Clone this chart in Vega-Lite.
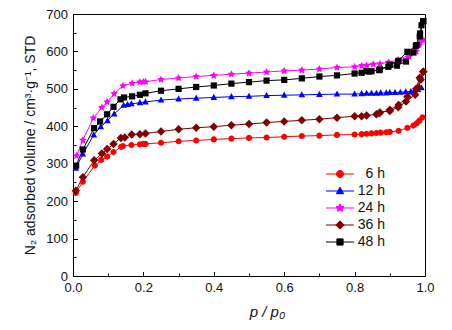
{
  "$schema": "https://vega.github.io/schema/vega-lite/v6.json",
  "width": 352,
  "height": 262,
  "autosize": {"type": "none"},
  "padding": {"left": 73, "top": 14, "right": 27, "bottom": 54},
  "background": "white",
  "config": {
    "font": "Liberation Sans",
    "view": {"stroke": "black", "strokeWidth": 1},
    "axis": {
      "labelFont": "Liberation Sans",
      "titleFont": "Liberation Sans",
      "labelFontSize": 13,
      "titleFontSize": 14,
      "titleFontWeight": "normal",
      "labelColor": "#111",
      "titleColor": "#111",
      "domainColor": "black",
      "tickColor": "black",
      "grid": false
    },
    "point": {"filled": true, "opacity": 1, "size": 100, "clip": true}
  },
  "datasets": {
    "iso": [
      {"s":"6 h","b":"a","p":0.008,"v":222},{"s":"6 h","b":"a","p":0.028,"v":252},{"s":"6 h","b":"a","p":0.062,"v":295},{"s":"6 h","b":"a","p":0.08,"v":310},{"s":"6 h","b":"a","p":0.097,"v":319},{"s":"6 h","b":"a","p":0.115,"v":331},{"s":"6 h","b":"a","p":0.137,"v":345},{"s":"6 h","b":"a","p":0.142,"v":347},{"s":"6 h","b":"a","p":0.166,"v":350},{"s":"6 h","b":"a","p":0.19,"v":352},{"s":"6 h","b":"a","p":0.2,"v":353},{"s":"6 h","b":"a","p":0.206,"v":353},{"s":"6 h","b":"a","p":0.25,"v":356},{"s":"6 h","b":"a","p":0.3,"v":360},{"s":"6 h","b":"a","p":0.35,"v":362},{"s":"6 h","b":"a","p":0.4,"v":365},{"s":"6 h","b":"a","p":0.45,"v":367},{"s":"6 h","b":"a","p":0.5,"v":369},{"s":"6 h","b":"a","p":0.55,"v":370},{"s":"6 h","b":"a","p":0.6,"v":372},{"s":"6 h","b":"a","p":0.65,"v":374},{"s":"6 h","b":"a","p":0.7,"v":375},{"s":"6 h","b":"a","p":0.75,"v":377},{"s":"6 h","b":"a","p":0.8,"v":378},{"s":"6 h","b":"a","p":0.82,"v":379},{"s":"6 h","b":"a","p":0.834,"v":380},{"s":"6 h","b":"a","p":0.848,"v":381},{"s":"6 h","b":"a","p":0.862,"v":382},{"s":"6 h","b":"a","p":0.874,"v":383},{"s":"6 h","b":"a","p":0.89,"v":384},{"s":"6 h","b":"a","p":0.9,"v":385},{"s":"6 h","b":"a","p":0.925,"v":388},{"s":"6 h","b":"a","p":0.95,"v":396},{"s":"6 h","b":"a","p":0.967,"v":402},{"s":"6 h","b":"a","p":0.976,"v":408},{"s":"6 h","b":"a","p":0.984,"v":415},{"s":"6 h","b":"a","p":0.993,"v":424},
      {"s":"12 h","b":"a","p":0.008,"v":288},{"s":"12 h","b":"a","p":0.028,"v":326},{"s":"12 h","b":"a","p":0.059,"v":377},{"s":"12 h","b":"a","p":0.079,"v":399},{"s":"12 h","b":"a","p":0.098,"v":415},{"s":"12 h","b":"a","p":0.117,"v":433},{"s":"12 h","b":"a","p":0.144,"v":456},{"s":"12 h","b":"a","p":0.155,"v":458},{"s":"12 h","b":"a","p":0.166,"v":460},{"s":"12 h","b":"a","p":0.19,"v":463},{"s":"12 h","b":"a","p":0.206,"v":465},{"s":"12 h","b":"a","p":0.25,"v":470},{"s":"12 h","b":"a","p":0.3,"v":473},{"s":"12 h","b":"a","p":0.35,"v":475},{"s":"12 h","b":"a","p":0.4,"v":477},{"s":"12 h","b":"a","p":0.45,"v":479},{"s":"12 h","b":"a","p":0.5,"v":480},{"s":"12 h","b":"a","p":0.55,"v":482},{"s":"12 h","b":"a","p":0.6,"v":483},{"s":"12 h","b":"a","p":0.65,"v":484},{"s":"12 h","b":"a","p":0.7,"v":485},{"s":"12 h","b":"a","p":0.75,"v":486},{"s":"12 h","b":"a","p":0.8,"v":486},{"s":"12 h","b":"a","p":0.82,"v":487},{"s":"12 h","b":"a","p":0.834,"v":488},{"s":"12 h","b":"a","p":0.848,"v":488},{"s":"12 h","b":"a","p":0.862,"v":488},{"s":"12 h","b":"a","p":0.874,"v":489},{"s":"12 h","b":"a","p":0.89,"v":489},{"s":"12 h","b":"a","p":0.9,"v":490},{"s":"12 h","b":"a","p":0.915,"v":490},{"s":"12 h","b":"a","p":0.93,"v":491},{"s":"12 h","b":"a","p":0.945,"v":492},{"s":"12 h","b":"a","p":0.96,"v":493},{"s":"12 h","b":"a","p":0.97,"v":495},{"s":"12 h","b":"a","p":0.98,"v":498},{"s":"12 h","b":"a","p":0.99,"v":503},
      {"s":"24 h","b":"a","p":0.01,"v":321},{"s":"24 h","b":"a","p":0.028,"v":363},{"s":"24 h","b":"a","p":0.058,"v":422},{"s":"24 h","b":"a","p":0.082,"v":450},{"s":"24 h","b":"a","p":0.097,"v":465},{"s":"24 h","b":"a","p":0.117,"v":487},{"s":"24 h","b":"a","p":0.142,"v":508},{"s":"24 h","b":"a","p":0.168,"v":515},{"s":"24 h","b":"a","p":0.19,"v":518},{"s":"24 h","b":"a","p":0.2,"v":519},{"s":"24 h","b":"a","p":0.206,"v":519},{"s":"24 h","b":"a","p":0.25,"v":525},{"s":"24 h","b":"a","p":0.3,"v":529},{"s":"24 h","b":"a","p":0.35,"v":533},{"s":"24 h","b":"a","p":0.4,"v":536},{"s":"24 h","b":"a","p":0.45,"v":539},{"s":"24 h","b":"a","p":0.5,"v":542},{"s":"24 h","b":"a","p":0.55,"v":545},{"s":"24 h","b":"a","p":0.6,"v":548},{"s":"24 h","b":"a","p":0.65,"v":550},{"s":"24 h","b":"a","p":0.7,"v":553},{"s":"24 h","b":"a","p":0.75,"v":557},{"s":"24 h","b":"a","p":0.8,"v":559},{"s":"24 h","b":"a","p":0.82,"v":562},{"s":"24 h","b":"a","p":0.834,"v":563},{"s":"24 h","b":"a","p":0.853,"v":566},{"s":"24 h","b":"a","p":0.872,"v":567},{"s":"24 h","b":"a","p":0.896,"v":571},{"s":"24 h","b":"a","p":0.924,"v":577},{"s":"24 h","b":"a","p":0.952,"v":590},{"s":"24 h","b":"a","p":0.972,"v":604},{"s":"24 h","b":"a","p":0.983,"v":617},{"s":"24 h","b":"a","p":0.993,"v":632},
      {"s":"24 h","b":"d","p":0.993,"v":632},{"s":"24 h","b":"d","p":0.985,"v":622},{"s":"24 h","b":"d","p":0.975,"v":600},{"s":"24 h","b":"d","p":0.955,"v":586},{"s":"24 h","b":"d","p":0.93,"v":575},{"s":"24 h","b":"d","p":0.9,"v":568},
      {"s":"36 h","b":"a","p":0.008,"v":228},{"s":"36 h","b":"a","p":0.028,"v":264},{"s":"36 h","b":"a","p":0.06,"v":309},{"s":"36 h","b":"a","p":0.082,"v":327},{"s":"36 h","b":"a","p":0.097,"v":339},{"s":"36 h","b":"a","p":0.115,"v":353},{"s":"36 h","b":"a","p":0.136,"v":369},{"s":"36 h","b":"a","p":0.147,"v":370},{"s":"36 h","b":"a","p":0.167,"v":378},{"s":"36 h","b":"a","p":0.19,"v":379},{"s":"36 h","b":"a","p":0.206,"v":381},{"s":"36 h","b":"a","p":0.25,"v":386},{"s":"36 h","b":"a","p":0.3,"v":392},{"s":"36 h","b":"a","p":0.35,"v":396},{"s":"36 h","b":"a","p":0.4,"v":399},{"s":"36 h","b":"a","p":0.45,"v":403},{"s":"36 h","b":"a","p":0.5,"v":406},{"s":"36 h","b":"a","p":0.55,"v":410},{"s":"36 h","b":"a","p":0.6,"v":413},{"s":"36 h","b":"a","p":0.65,"v":416},{"s":"36 h","b":"a","p":0.7,"v":419},{"s":"36 h","b":"a","p":0.75,"v":423},{"s":"36 h","b":"a","p":0.8,"v":427},{"s":"36 h","b":"a","p":0.82,"v":427},{"s":"36 h","b":"a","p":0.834,"v":429},{"s":"36 h","b":"a","p":0.862,"v":432},{"s":"36 h","b":"a","p":0.872,"v":437},{"s":"36 h","b":"a","p":0.9,"v":441},{"s":"36 h","b":"a","p":0.924,"v":451},{"s":"36 h","b":"a","p":0.946,"v":466},{"s":"36 h","b":"a","p":0.972,"v":484},{"s":"36 h","b":"a","p":0.981,"v":504},{"s":"36 h","b":"a","p":0.988,"v":524},{"s":"36 h","b":"a","p":0.995,"v":546},
      {"s":"36 h","b":"d","p":0.995,"v":546},{"s":"36 h","b":"d","p":0.985,"v":530},{"s":"36 h","b":"d","p":0.975,"v":500},{"s":"36 h","b":"d","p":0.95,"v":479},{"s":"36 h","b":"d","p":0.925,"v":457},{"s":"36 h","b":"d","p":0.9,"v":444},{"s":"36 h","b":"d","p":0.87,"v":435},
      {"s":"48 h","b":"a","p":0.009,"v":295},{"s":"48 h","b":"a","p":0.028,"v":338},{"s":"48 h","b":"a","p":0.06,"v":395},{"s":"48 h","b":"a","p":0.077,"v":413},{"s":"48 h","b":"a","p":0.097,"v":432},{"s":"48 h","b":"a","p":0.115,"v":452},{"s":"48 h","b":"a","p":0.135,"v":472},{"s":"48 h","b":"a","p":0.145,"v":477},{"s":"48 h","b":"a","p":0.168,"v":480},{"s":"48 h","b":"a","p":0.19,"v":484},{"s":"48 h","b":"a","p":0.206,"v":488},{"s":"48 h","b":"a","p":0.25,"v":495},{"s":"48 h","b":"a","p":0.3,"v":500},{"s":"48 h","b":"a","p":0.35,"v":505},{"s":"48 h","b":"a","p":0.4,"v":509},{"s":"48 h","b":"a","p":0.45,"v":514},{"s":"48 h","b":"a","p":0.5,"v":518},{"s":"48 h","b":"a","p":0.55,"v":522},{"s":"48 h","b":"a","p":0.6,"v":524},{"s":"48 h","b":"a","p":0.65,"v":528},{"s":"48 h","b":"a","p":0.7,"v":533},{"s":"48 h","b":"a","p":0.75,"v":536},{"s":"48 h","b":"a","p":0.8,"v":541},{"s":"48 h","b":"a","p":0.82,"v":543},{"s":"48 h","b":"a","p":0.834,"v":548},{"s":"48 h","b":"a","p":0.848,"v":547},{"s":"48 h","b":"a","p":0.872,"v":552},{"s":"48 h","b":"a","p":0.896,"v":559},{"s":"48 h","b":"a","p":0.92,"v":562},{"s":"48 h","b":"a","p":0.946,"v":573},{"s":"48 h","b":"a","p":0.967,"v":597},{"s":"48 h","b":"a","p":0.976,"v":617},{"s":"48 h","b":"a","p":0.986,"v":648},{"s":"48 h","b":"a","p":0.99,"v":670},{"s":"48 h","b":"a","p":0.995,"v":681},
      {"s":"48 h","b":"d","p":0.995,"v":681},{"s":"48 h","b":"d","p":0.985,"v":640},{"s":"48 h","b":"d","p":0.974,"v":615},{"s":"48 h","b":"d","p":0.95,"v":599},{"s":"48 h","b":"d","p":0.924,"v":575},{"s":"48 h","b":"d","p":0.9,"v":564},{"s":"48 h","b":"d","p":0.87,"v":550},{"s":"48 h","b":"d","p":0.84,"v":546}
    ]
  },
  "data": {"name": "iso"},
  "encoding": {
    "x": {
      "field": "p", "type": "quantitative",
      "scale": {"domain": [0, 1], "nice": false},
      "axis": {
        "title": "p / p₀",
        "titleFontStyle": "italic",
        "titleFontSize": 15,
        "titleX": 194,
        "titleAlign": "center",
        "titlePadding": 10,
        "values": [0, 0.1, 0.2, 0.3, 0.4, 0.5, 0.6, 0.7, 0.8, 0.9, 1.0],
        "labelExpr": "round(datum.value * 10) % 2 === 0 ? format(datum.value, '.1f') : ''",
        "tickSize": {"condition": {"test": "round(datum.value * 10) % 2 === 0", "value": -4.5}, "value": -3},
        "labelPadding": 10,
        "labelFlush": false
      }
    },
    "y": {
      "field": "v", "type": "quantitative",
      "scale": {"domain": [0, 700], "nice": false},
      "axis": {
        "title": "N₂ adsorbed volume / cm³·g⁻¹, STD",
        "values": [0, 50, 100, 150, 200, 250, 300, 350, 400, 450, 500, 550, 600, 650, 700],
        "labelExpr": "datum.value % 100 === 0 ? datum.label : ''",
        "tickSize": {"condition": {"test": "datum.value % 100 === 0", "value": -4.5}, "value": -3},
        "labelPadding": 10,
        "titlePadding": 8,
        "labelFlush": false
      }
    },
    "color": {
      "field": "s", "type": "nominal",
      "scale": {
        "domain": ["6 h", "12 h", "24 h", "36 h", "48 h"],
        "range": ["#ff0000", "#0000ff", "#ff00ff", "#800000", "#000000"]
      },
      "legend": {
        "orient": "none",
        "legendX": 260,
        "legendY": 153,
        "title": null,
        "padding": 0,
        "symbolSize": 100,
        "symbolStrokeWidth": 1,
        "labelFontSize": 14,
        "labelFont": "Liberation Sans",
        "labelColor": "#111",
        "labelAlign": "right",
        "labelOffset": 38,
        "rowPadding": 3,
        "encode": {
          "symbols": {
            "update": {
              "shape": {"signal": "datum.value === '6 h' ? 'M-2.8,0L2.8,0M0.7,0A0.7,0.7 0 1,1 -0.7,0A0.7,0.7 0 1,1 0.7,0Z' : datum.value === '12 h' ? 'M-2.8,0L2.8,0M0,-0.76L0.73,0.53L-0.73,0.53Z' : datum.value === '24 h' ? 'M-2.8,0L2.8,0M0,-0.84L0.25,-0.34L0.81,-0.25L0.39,0.14L0.5,0.67L0,0.42L-0.5,0.67L-0.39,0.14L-0.81,-0.25L-0.25,-0.34Z' : datum.value === '36 h' ? 'M-2.8,0L2.8,0M0,-0.84L0.84,0L0,0.84L-0.84,0Z' : 'M-2.8,0L2.8,0M-0.62,-0.62L0.62,-0.62L0.62,0.62L-0.62,0.62Z'"},
              "stroke": {"scale": "color", "field": "value"},
              "fill": {"scale": "color", "field": "value"},
              "strokeWidth": {"value": 1},
              "opacity": {"value": 1}
            }
          }
        }
      }
    }
  },
  "layer": [
    {
      "mark": {"type": "line", "strokeWidth": 1, "clip": true},
      "encoding": {"detail": {"field": "b"}}
    },
    {
      "transform": [{"filter": "datum.s === '6 h'"}],
      "mark": {"type": "point", "shape": "M0.62,0A0.62,0.62 0 1,1 -0.62,0A0.62,0.62 0 1,1 0.62,0Z"}
    },
    {
      "transform": [{"filter": "datum.s === '12 h'"}],
      "mark": {"type": "point", "shape": "M0,-0.72L0.66,0.5L-0.66,0.5Z"}
    },
    {
      "transform": [{"filter": "datum.s === '24 h'"}],
      "mark": {"type": "point", "shape": "M0,-0.8L0.23,-0.32L0.76,-0.25L0.38,0.12L0.47,0.65L0,0.4L-0.47,0.65L-0.38,0.12L-0.76,-0.25L-0.23,-0.32Z"}
    },
    {
      "transform": [{"filter": "datum.s === '36 h'"}],
      "mark": {"type": "point", "shape": "M0,-0.85L0.85,0L0,0.85L-0.85,0Z"}
    },
    {
      "transform": [{"filter": "datum.s === '48 h'"}],
      "mark": {"type": "point", "shape": "M-0.62,-0.62L0.62,-0.62L0.62,0.62L-0.62,0.62Z"}
    }
  ]
}
